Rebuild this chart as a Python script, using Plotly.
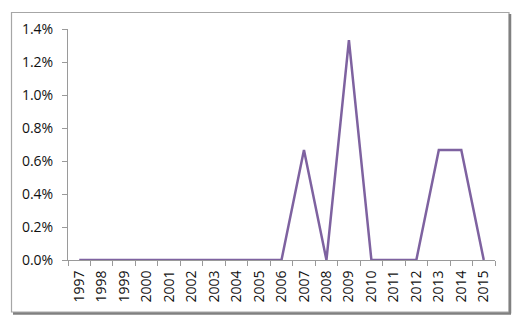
import plotly.graph_objects as go

years = [str(y) for y in range(1997, 2016)]
values = [0, 0, 0, 0, 0, 0, 0, 0, 0, 0, 0.00667, 0, 0.01333, 0, 0, 0, 0.00667, 0.00667, 0]
y_ticks = [0, 0.002, 0.004, 0.006, 0.008, 0.010, 0.012, 0.014]
y_tick_text = ["0.0%", "0.2%", "0.4%", "0.6%", "0.8%", "1.0%", "1.2%", "1.4%"]

W, H = 524, 326
L, R, T, B = 68, 495, 29, 260

def px(x):
    return (x - L) / (R - L)

def py(y):
    return (B - y) / (B - T)

fig = go.Figure()
fig.add_trace(go.Scatter(
    x=years, y=values, mode="lines",
    line=dict(color="#7E62A0", width=2.5),
    hoverinfo="skip",
))

font = dict(family="Open Sans, Liberation Sans, sans-serif", size=14, color="#111111")

fig.update_layout(
    width=W, height=H,
    margin=dict(l=L, r=W - R, t=T, b=H - B),
    paper_bgcolor="white", plot_bgcolor="white",
    showlegend=False,
    font=font,
    xaxis=dict(
        type="category", tickangle=-90,
        showgrid=False, showline=True, linecolor="#9a9a9a", linewidth=1,
        ticks="outside", ticklen=5, tickcolor="#9a9a9a",
        tickson="boundaries", range=[-0.5, 18.5],
        tickfont=dict(size=14, color="#111111"),
        ticklabelstandoff=4,
    ),
    yaxis=dict(
        range=[0, 0.014], tickvals=y_ticks, ticktext=y_tick_text,
        showgrid=False, showline=True, linecolor="#9a9a9a", linewidth=1,
        ticks="outside", ticklen=5, tickcolor="#9a9a9a",
        zeroline=False, tickfont=dict(size=14, color="#111111"),
        ticklabelstandoff=6,
    ),
    shapes=[
        dict(type="rect", xref="paper", yref="paper",
             x0=px(11.5), x1=px(509), y0=py(12.5), y1=py(312),
             line=dict(color="#a6a6a6", width=1.2), fillcolor="rgba(0,0,0,0)", layer="below"),
        dict(type="line", xref="paper", yref="paper",
             x0=px(510), x1=px(510), y0=py(14), y1=py(313.5),
             line=dict(color="#808080", width=2.5)),
        dict(type="line", xref="paper", yref="paper",
             x0=px(13), x1=px(511), y0=py(313.5), y1=py(313.5),
             line=dict(color="#808080", width=2.5)),
    ],
)

fig.write_html("out.html")
